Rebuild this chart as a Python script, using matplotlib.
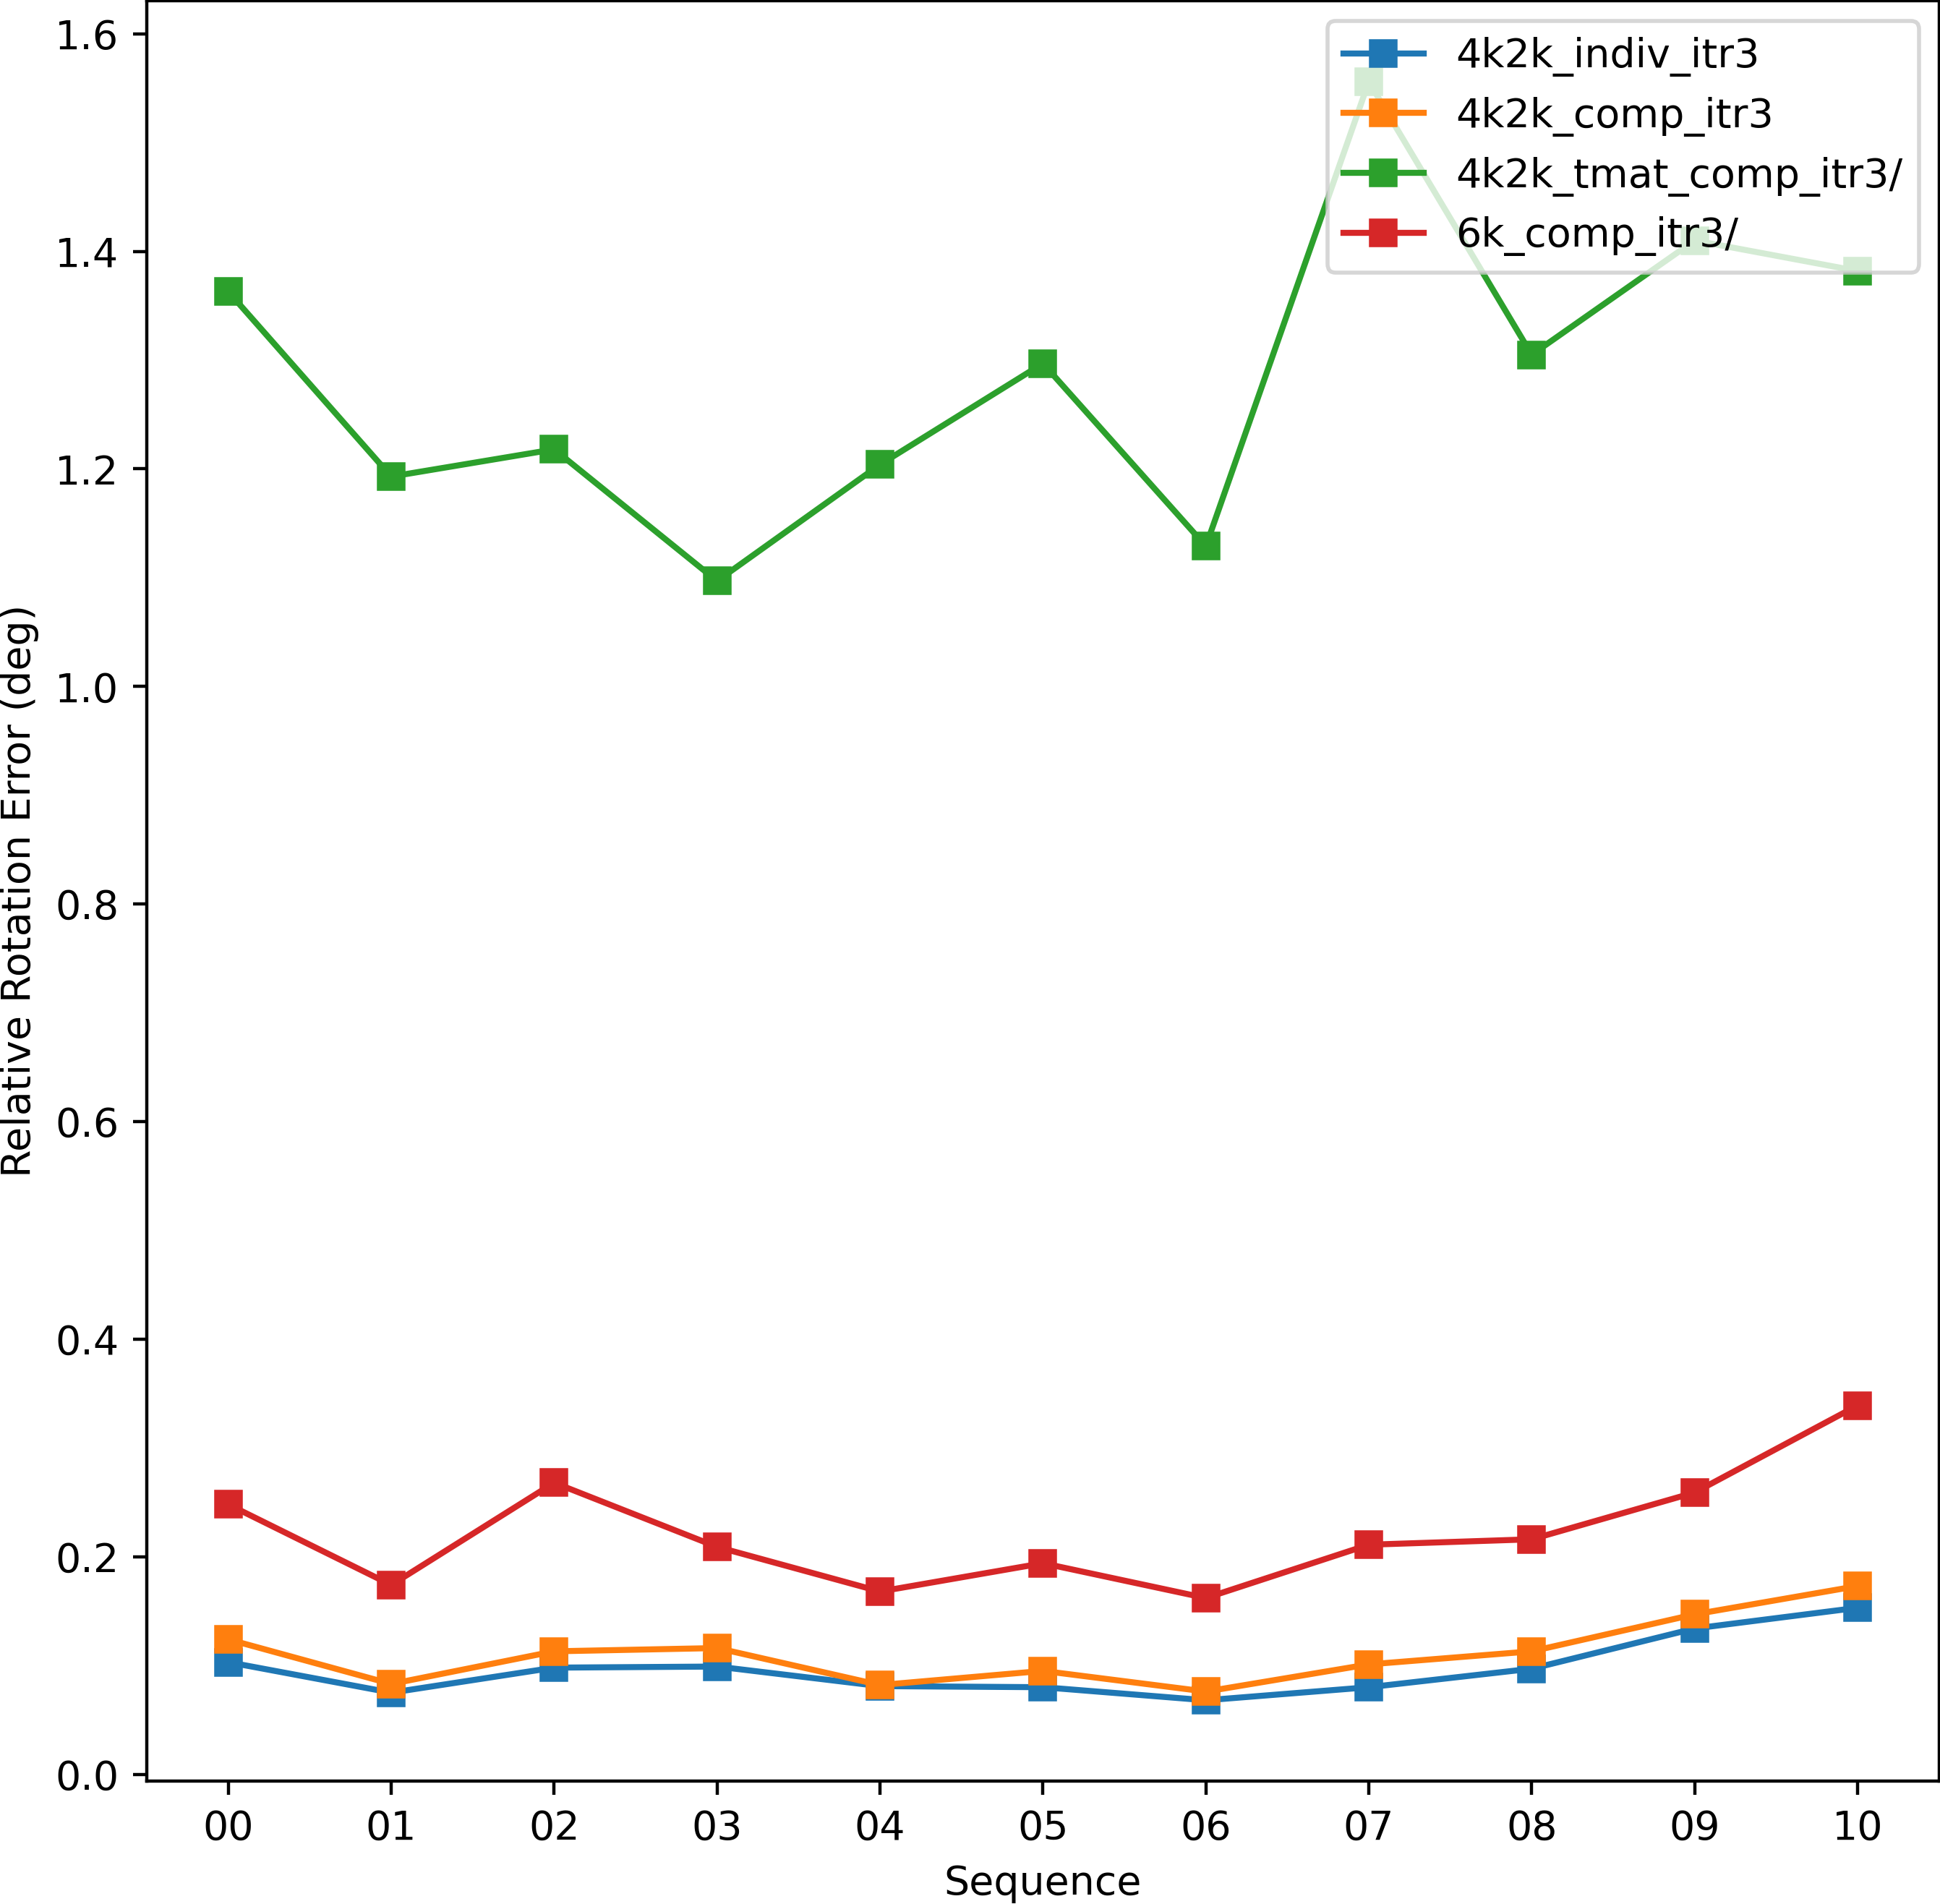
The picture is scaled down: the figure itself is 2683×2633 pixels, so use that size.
import matplotlib
matplotlib.use('Agg')
import matplotlib.pyplot as plt

seqs = ['00', '01', '02', '03', '04', '05', '06', '07', '08', '09', '10']
indiv = [0.103, 0.075, 0.098, 0.099, 0.081, 0.080, 0.068, 0.080, 0.097, 0.134, 0.153]
comp = [0.124, 0.083, 0.113, 0.116, 0.082, 0.095, 0.076, 0.101, 0.113, 0.147, 0.173]
tmat_comp = [1.363, 1.193, 1.218, 1.097, 1.204, 1.297, 1.129, 1.556, 1.305, 1.410, 1.382]
comp_6k = [0.248, 0.174, 0.268, 0.209, 0.168, 0.194, 0.162, 0.211, 0.216, 0.259, 0.339]

fig = plt.figure(figsize=(2683 / 400, 2633 / 400), dpi=400)
ax = fig.add_axes([0.0757, 0.0645, 0.9238, 0.9351])

x = range(len(seqs))
ax.plot(x, indiv, marker='s', markersize=6, label='4k2k_indiv_itr3')
ax.plot(x, comp, marker='s', markersize=6, label='4k2k_comp_itr3')
ax.plot(x, tmat_comp, marker='s', markersize=6, label='4k2k_tmat_comp_itr3/')
ax.plot(x, comp_6k, marker='s', markersize=6, label='6k_comp_itr3/')

ax.set_xticks(list(x))
ax.set_xticklabels(seqs)
ax.set_xlabel('Sequence')
ax.set_ylabel('Relative Rotation Error (deg)')
ax.legend(loc='upper right')

fig.savefig('out.png', dpi=400)
